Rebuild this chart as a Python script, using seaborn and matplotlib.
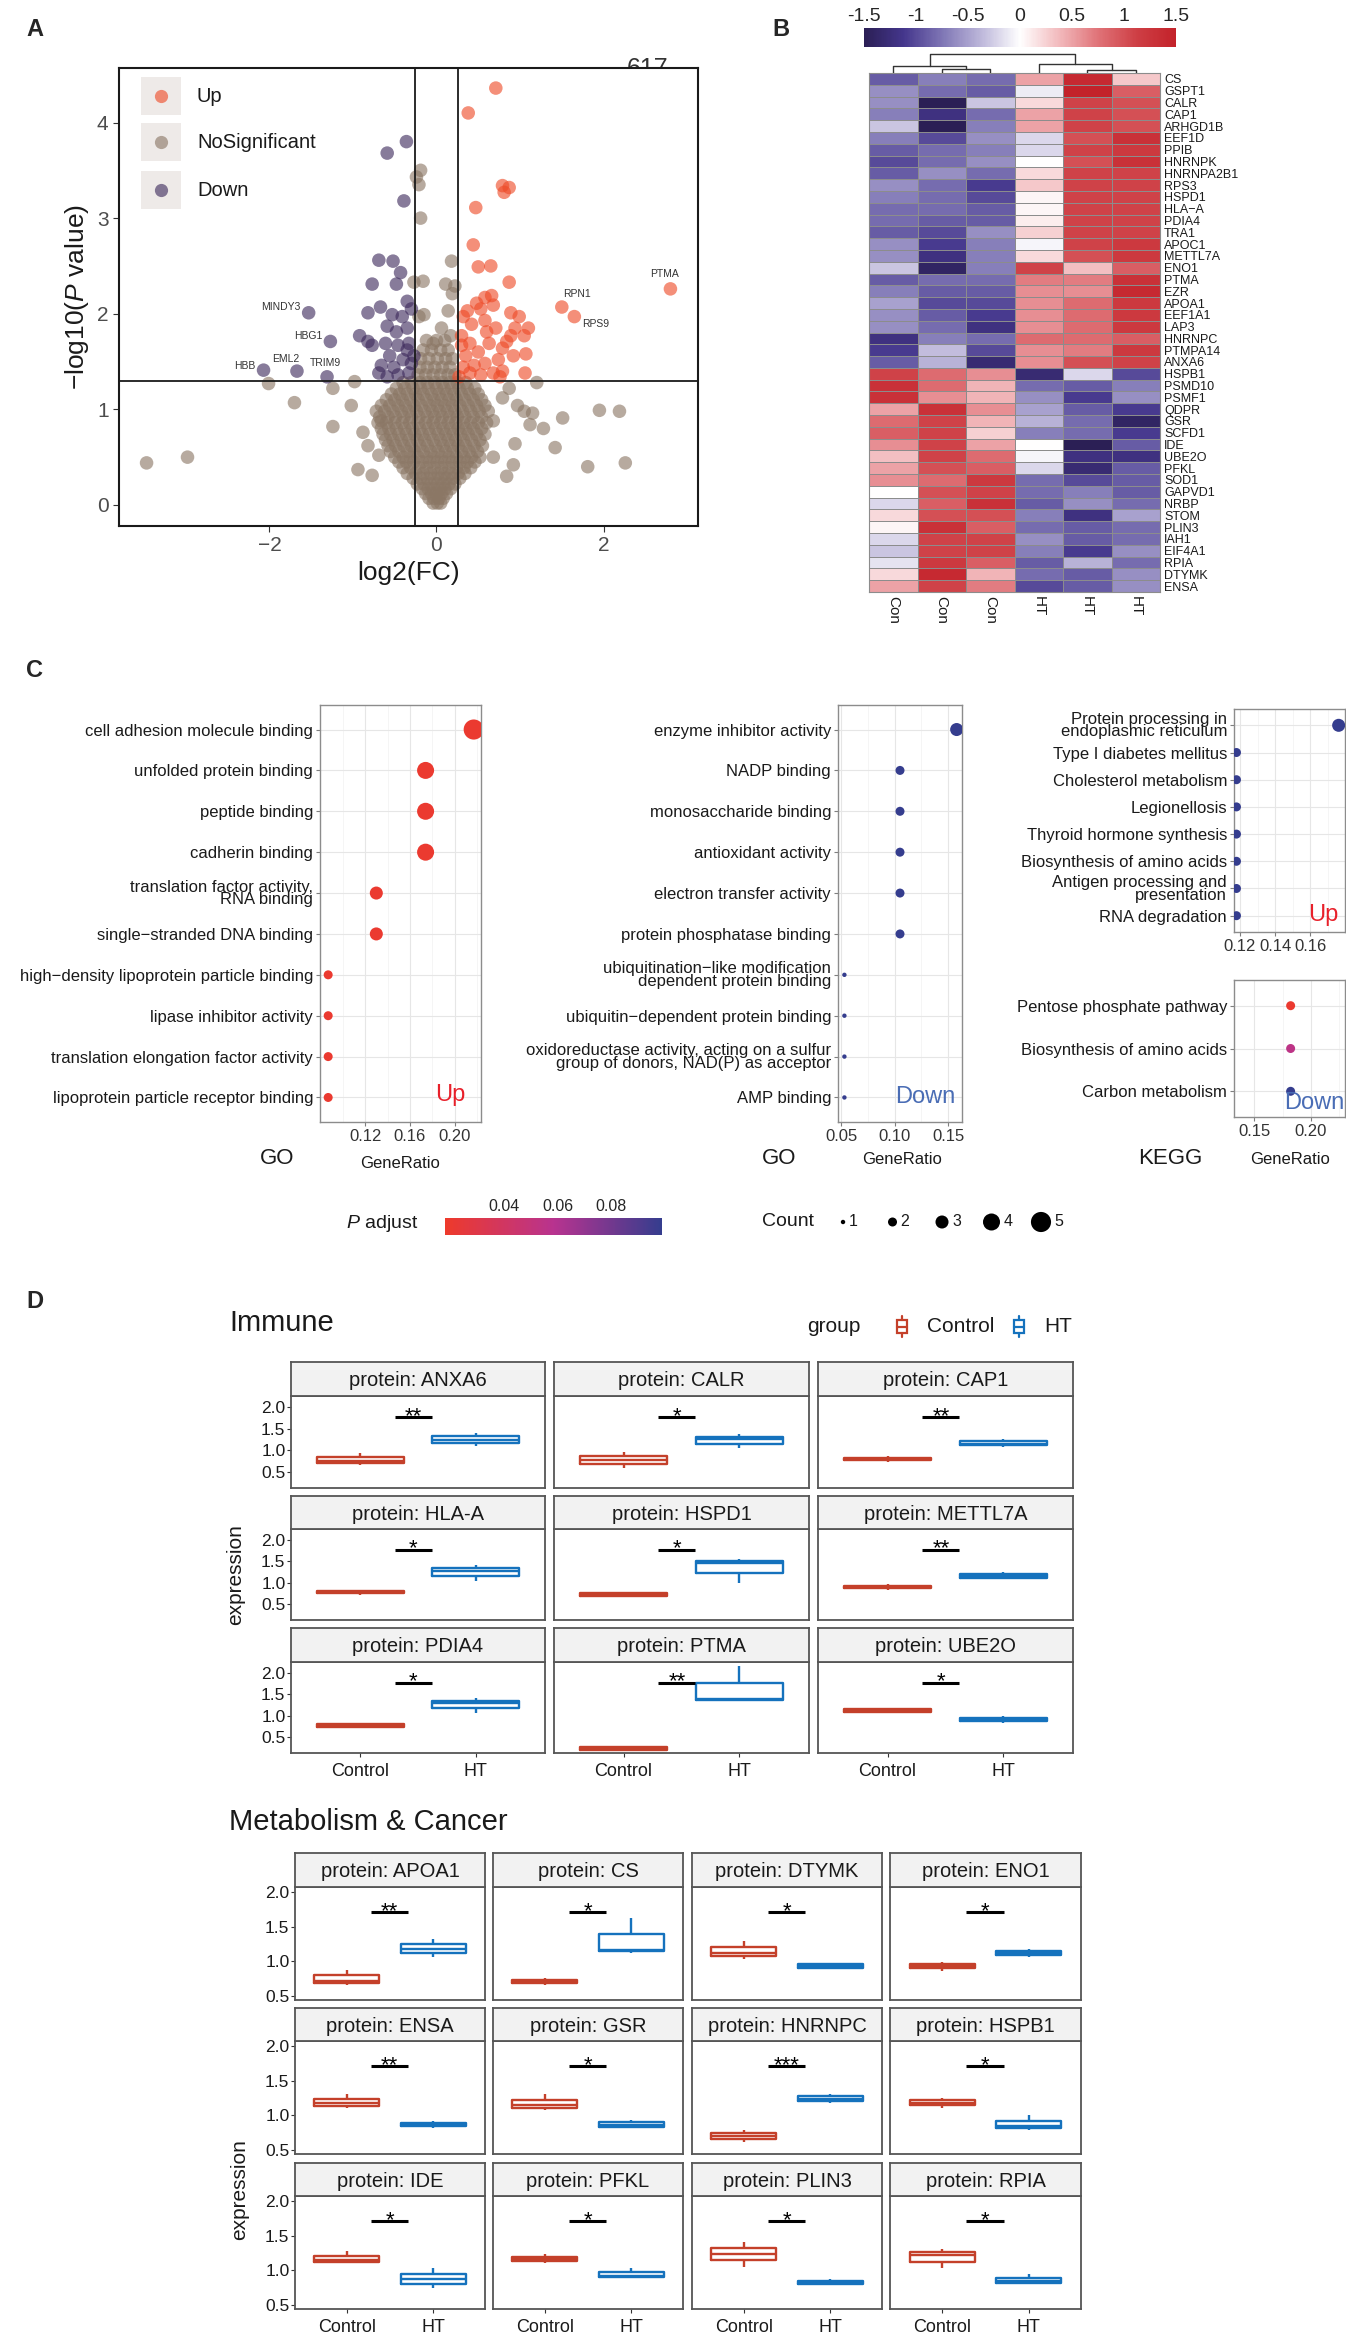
import numpy as np
import pandas as pd
import matplotlib
matplotlib.use("Agg")
import matplotlib.pyplot as plt
import seaborn as sns
from matplotlib.colors import LinearSegmentedColormap, Normalize
from matplotlib.cm import ScalarMappable
from matplotlib.patches import Rectangle
from matplotlib.ticker import MultipleLocator

sns.set_style("white")
plt.rcParams["font.family"] = ["Liberation Sans", "DejaVu Sans"]
plt.rcParams["mathtext.fontset"] = "custom"
plt.rcParams["mathtext.rm"] = "Liberation Sans"
plt.rcParams["mathtext.it"] = "Liberation Sans:italic"

# ---------------- A: volcano data ----------------
up_x = [0.71, 0.38, 0.79, 0.87, 0.81, 0.47, 0.44, 0.50, 0.65, 0.87, 1.50, 1.65, 2.80,
        0.37, 0.48, 0.58, 0.66, 0.53, 0.68, 0.32, 0.42, 0.58, 0.71, 0.89, 0.99, 1.10, 0.89, 1.05,
        0.30, 0.40, 0.50, 0.63, 0.79, 0.35, 0.45, 0.58, 0.74, 0.92, 1.07, 0.32, 0.40, 0.53, 0.68,
        0.79, 1.06, 0.30, 0.94, 0.84, 0.60, 0.27, 0.76]
up_y = [4.36, 4.10, 3.34, 3.32, 3.27, 3.11, 2.72, 2.49, 2.50, 2.33, 2.07, 1.97, 2.26,
        2.03, 2.11, 2.17, 2.19, 2.05, 2.09, 1.97, 1.89, 1.93, 1.85, 2.01, 1.97, 1.85, 1.77, 1.77,
        1.77, 1.69, 1.60, 1.69, 1.64, 1.56, 1.46, 1.48, 1.52, 1.56, 1.58, 1.44, 1.38, 1.36, 1.38,
        1.40, 1.38, 1.67, 1.85, 1.71, 1.81, 1.34, 1.34]
down_x = [-0.36, -0.59, -0.39, -0.69, -0.52, -0.43, -0.77, -0.48, -1.53, -1.27, -2.07, -1.67, -1.31,
          -0.35, -0.30, -0.82, -0.67, -0.53, -0.41, -0.59, -0.48, -0.35, -0.92, -0.82, -0.77, -0.61,
          -0.46, -0.33, -0.56, -0.40, -0.30, -0.66, -0.51, -0.69, -0.59, -0.46, -0.33, -0.27, -0.35]
down_y = [3.80, 3.68, 3.18, 2.56, 2.55, 2.43, 2.31, 2.31, 2.01, 1.71, 1.41, 1.40, 1.34,
          2.13, 2.05, 2.01, 2.07, 1.99, 1.97, 1.87, 1.81, 1.85, 1.77, 1.71, 1.67, 1.69,
          1.67, 1.69, 1.56, 1.52, 1.48, 1.46, 1.44, 1.38, 1.34, 1.36, 1.38, 1.56, 1.62]
ns_x = [-3.47, -2.98, -2.01, -1.70, -1.24, -1.24, -0.98, -0.94, -0.77, -1.02, -0.88, -0.82, -0.69, -0.66,
        0.18, -0.24, -0.19, -0.21, -0.19, -0.27, -0.16, 0.11, 0.22, 0.19, 0.14, -0.15, -0.21, 0.06, 0.17, -0.04,
        1.20, 0.97, 1.05, 1.15, 1.51, 1.95, 2.19, 1.42, 1.81, 2.26, 1.28, 1.12, 0.94, 0.84, 0.92, 0.68, 0.79, 0.87, 0.68]
ns_y = [0.44, 0.50, 1.27, 1.07, 1.22, 0.82, 1.29, 0.37, 0.31, 1.04, 0.76, 0.62, 0.52, 0.88,
        2.55, 3.43, 3.50, 3.35, 3.00, 2.33, 2.34, 2.31, 2.29, 2.21, 2.03, 1.99, 1.97, 1.85, 1.77, 1.69,
        1.28, 1.04, 0.98, 0.96, 0.91, 0.99, 0.98, 0.60, 0.40, 0.44, 0.80, 0.84, 0.64, 0.30, 0.42, 0.50, 1.12, 1.22, 0.88]
# dense centre of the cloud, row by row (y, x values)
ns_rows = [
    (0.02, [-0.04, 0.01, 0.05]),
    (0.07, [-0.09, -0.03, 0.03, 0.08]),
    (0.12, [-0.13, -0.06, 0.0, 0.06, 0.12]),
    (0.17, [-0.17, -0.1, -0.03, 0.04, 0.1, 0.17]),
    (0.22, [-0.23, -0.15, -0.07, 0.01, 0.08, 0.15, 0.22]),
    (0.28, [-0.28, -0.19, -0.11, -0.03, 0.05, 0.12, 0.2, 0.28]),
    (0.33, [-0.35, -0.25, -0.16, -0.07, 0.02, 0.1, 0.18, 0.26, 0.34]),
    (0.39, [-0.4, -0.31, -0.21, -0.12, -0.03, 0.06, 0.15, 0.24, 0.33, 0.41]),
    (0.45, [-0.45, -0.36, -0.27, -0.17, -0.08, 0.01, 0.1, 0.19, 0.28, 0.37, 0.46]),
    (0.50, [-0.5, -0.4, -0.31, -0.22, -0.12, -0.03, 0.06, 0.15, 0.24, 0.33, 0.42, 0.52]),
    (0.56, [-0.55, -0.45, -0.35, -0.26, -0.16, -0.07, 0.02, 0.11, 0.2, 0.3, 0.39, 0.49]),
    (0.62, [-0.58, -0.49, -0.39, -0.3, -0.2, -0.11, -0.01, 0.08, 0.17, 0.26, 0.35, 0.45, 0.55]),
    (0.68, [-0.61, -0.52, -0.42, -0.33, -0.23, -0.14, -0.04, 0.05, 0.14, 0.23, 0.32, 0.42, 0.52]),
    (0.74, [-0.64, -0.55, -0.45, -0.36, -0.26, -0.17, -0.08, 0.02, 0.11, 0.2, 0.29, 0.38, 0.48, 0.58]),
    (0.80, [-0.66, -0.57, -0.48, -0.38, -0.29, -0.2, -0.1, -0.01, 0.08, 0.17, 0.26, 0.35, 0.44, 0.54]),
    (0.86, [-0.7, -0.6, -0.5, -0.41, -0.32, -0.22, -0.13, -0.04, 0.05, 0.14, 0.23, 0.32, 0.41, 0.5, 0.6]),
    (0.92, [-0.68, -0.58, -0.49, -0.39, -0.3, -0.21, -0.11, -0.02, 0.07, 0.16, 0.25, 0.34, 0.44, 0.54]),
    (0.98, [-0.72, -0.62, -0.52, -0.42, -0.33, -0.24, -0.14, -0.05, 0.04, 0.13, 0.22, 0.31, 0.41, 0.51, 0.62]),
    (1.04, [-0.66, -0.56, -0.46, -0.37, -0.27, -0.18, -0.08, 0.01, 0.1, 0.19, 0.28, 0.38, 0.48, 0.58]),
    (1.10, [-0.6, -0.5, -0.41, -0.31, -0.22, -0.12, -0.03, 0.06, 0.15, 0.24, 0.34, 0.44, 0.54]),
    (1.16, [-0.54, -0.44, -0.35, -0.25, -0.16, -0.06, 0.03, 0.12, 0.21, 0.3, 0.4, 0.5]),
    (1.22, [-0.48, -0.38, -0.28, -0.19, -0.1, 0.0, 0.09, 0.18, 0.27, 0.37, 0.46]),
    (1.28, [-0.4, -0.3, -0.2, -0.11, -0.02, 0.07, 0.16, 0.25, 0.35]),
    (1.36, [-0.22, -0.13, -0.04, 0.05, 0.14, 0.22]),
    (1.44, [-0.2, -0.11, -0.02, 0.07, 0.16]),
    (1.53, [-0.19, -0.09, 0.01, 0.11, 0.19]),
    (1.62, [-0.16, -0.06, 0.05, 0.14]),
    (1.72, [-0.12, 0.0, 0.1]),
]
vol_labels = ["MINDY3", "HBG1", "EML2", "HBB", "TRIM9", "RPN1", "RPS9", "PTMA"]
vol_label_x = [-1.63, -1.53, -1.81, -2.30, -1.33, 1.68, 1.91, 2.73]
vol_label_y = [2.07, 1.77, 1.53, 1.45, 1.48, 2.21, 1.89, 2.42]

# ---------------- B: heatmap data ----------------
hm_samples = ["Con", "Con", "Con", "HT", "HT", "HT"]
hm_genes = ["CS", "GSPT1", "CALR", "CAP1", "ARHGD1B", "EEF1D", "PPIB", "HNRNPK", "HNRNPA2B1", "RPS3",
            "HSPD1", "HLA\u2212A", "PDIA4", "TRA1", "APOC1", "METTL7A", "ENO1", "PTMA", "EZR", "APOA1",
            "EEF1A1", "LAP3", "HNRNPC", "PTMPA14", "ANXA6", "HSPB1", "PSMD10", "PSMF1", "QDPR", "GSR",
            "SCFD1", "IDE", "UBE2O", "PFKL", "SOD1", "GAPVD1", "NRBP", "STOM", "PLIN3", "IAH1",
            "EIF4A1", "RPIA", "DTYMK", "ENSA"]
hm_values = [
    [-0.9, -0.7, -0.8, 0.5, 1.4, 0.3],
    [-0.6, -0.8, -0.9, -0.1, 1.5, 0.9],
    [-0.6, -1.5, -0.3, 0.2, 1.1, 1.0],
    [-0.7, -1.2, -0.8, 0.5, 1.1, 1.0],
    [-0.3, -1.5, -0.7, 0.5, 1.1, 1.0],
    [-0.7, -1.0, -0.6, -0.2, 1.0, 1.3],
    [-0.9, -0.8, -0.7, -0.2, 1.1, 1.2],
    [-1.0, -0.8, -0.6, 0.0, 1.0, 1.3],
    [-0.9, -0.6, -0.8, 0.2, 1.1, 1.1],
    [-0.6, -0.8, -1.1, 0.3, 1.1, 1.1],
    [-0.7, -0.8, -1.0, 0.05, 1.1, 1.1],
    [-0.8, -0.8, -0.9, 0.05, 1.1, 1.1],
    [-0.8, -0.9, -0.9, 0.1, 1.1, 1.1],
    [-0.9, -1.0, -0.6, 0.25, 1.1, 1.1],
    [-0.6, -1.1, -0.7, -0.05, 1.1, 1.2],
    [-0.6, -1.2, -0.7, 0.2, 1.0, 1.2],
    [-0.3, -1.4, -0.7, 1.1, 0.35, 0.9],
    [-0.9, -0.8, -0.8, 0.7, 0.7, 1.3],
    [-0.7, -0.9, -0.9, 0.6, 0.6, 1.4],
    [-0.5, -1.0, -1.0, 0.6, 0.8, 1.2],
    [-0.6, -0.9, -1.1, 0.6, 0.8, 1.2],
    [-0.6, -0.8, -1.2, 0.6, 0.8, 1.2],
    [-1.2, -0.7, -0.8, 0.8, 0.8, 0.9],
    [-1.1, -0.35, -1.0, 0.6, 0.7, 1.2],
    [-0.9, -0.4, -1.3, 0.6, 1.0, 1.1],
    [1.1, 0.8, 0.6, -1.3, -0.2, -1.0],
    [1.3, 0.8, 0.4, -0.8, -0.9, -0.7],
    [1.3, 0.6, 0.4, -0.6, -1.1, -0.6],
    [0.5, 1.3, 0.6, -0.5, -0.9, -1.1],
    [0.8, 1.1, 0.4, -0.4, -0.8, -1.4],
    [0.9, 1.1, 0.25, -0.7, -0.8, -1.1],
    [0.6, 1.1, 0.5, 0.0, -1.5, -0.9],
    [0.35, 1.1, 0.8, -0.05, -1.2, -1.2],
    [0.5, 1.0, 0.9, -0.2, -1.3, -0.9],
    [0.6, 0.8, 1.2, -0.8, -1.0, -0.9],
    [0.0, 1.0, 1.1, -0.8, -0.7, -0.9],
    [-0.2, 0.9, 1.3, -0.9, -0.6, -0.8],
    [0.2, 1.0, 1.0, -0.7, -1.2, -0.5],
    [0.05, 1.3, 0.9, -0.8, -0.9, -0.8],
    [-0.2, 1.1, 1.1, -0.6, -0.9, -0.8],
    [-0.3, 1.1, 1.1, -0.7, -1.1, -0.6],
    [-0.15, 1.2, 0.9, -0.9, -0.4, -0.8],
    [0.2, 1.4, 0.4, -0.8, -0.9, -0.6],
    [0.5, 1.1, 0.7, -1.0, -0.9, -0.6],
]
# column dendrogram (scipy style coordinates, heights relative)
dend_icoord = [[1.5, 1.5, 2.5, 2.5], [0.5, 0.5, 2.0, 2.0], [4.5, 4.5, 5.5, 5.5],
               [3.5, 3.5, 5.0, 5.0], [1.25, 1.25, 4.25, 4.25]]
dend_dcoord = [[0, 0.22, 0.22, 0], [0, 0.36, 0.36, 0.22], [0, 0.15, 0.15, 0],
               [0, 0.46, 0.46, 0.15], [0.36, 1.0, 1.0, 0.46]]

# ---------------- C: enrichment data ----------------
go_up_terms = ["cell adhesion molecule binding", "unfolded protein binding", "peptide binding",
               "cadherin binding", "translation factor activity,\nRNA binding", "single\u2212stranded DNA binding",
               "high\u2212density lipoprotein particle binding", "lipase inhibitor activity",
               "translation elongation factor activity", "lipoprotein particle receptor binding"]
go_up_count = [5, 4, 4, 4, 3, 3, 2, 2, 2, 2]
go_up_ratio = [0.217, 0.174, 0.174, 0.174, 0.130, 0.130, 0.087, 0.087, 0.087, 0.087]
go_up_padj = [0.02, 0.02, 0.02, 0.02, 0.02, 0.02, 0.02, 0.02, 0.02, 0.02]

go_down_terms = ["enzyme inhibitor activity", "NADP binding", "monosaccharide binding", "antioxidant activity",
                 "electron transfer activity", "protein phosphatase binding",
                 "ubiquitination\u2212like modification\ndependent protein binding",
                 "ubiquitin\u2212dependent protein binding",
                 "oxidoreductase activity, acting on a sulfur\ngroup of donors, NAD(P) as acceptor", "AMP binding"]
go_down_count = [3, 2, 2, 2, 2, 2, 1, 1, 1, 1]
go_down_ratio = [0.158, 0.105, 0.105, 0.105, 0.105, 0.105, 0.053, 0.053, 0.053, 0.053]
go_down_padj = [0.099] * 10

kegg_up_terms = ["Protein processing in\nendoplasmic reticulum", "Type I diabetes mellitus", "Cholesterol metabolism",
                 "Legionellosis", "Thyroid hormone synthesis", "Biosynthesis of amino acids",
                 "Antigen processing and\npresentation", "RNA degradation"]
kegg_up_count = [3, 2, 2, 2, 2, 2, 2, 2]
kegg_up_ratio = [0.176, 0.118, 0.118, 0.118, 0.118, 0.118, 0.118, 0.118]
kegg_up_padj = [0.099] * 8

kegg_down_terms = ["Pentose phosphate pathway", "Biosynthesis of amino acids", "Carbon metabolism"]
kegg_down_count = [2, 2, 2]
kegg_down_ratio = [0.182, 0.182, 0.182]
kegg_down_padj = [0.02, 0.055, 0.099]

# ---------------- D: boxplot data (3 samples per group) ----------------
immune_proteins = ["ANXA6", "CALR", "CAP1", "HLA-A", "HSPD1", "METTL7A", "PDIA4", "PTMA", "UBE2O"]
immune_ctrl = [[0.66, 0.76, 0.94], [0.60, 0.78, 0.95], [0.74, 0.79, 0.86],
               [0.72, 0.78, 0.84], [0.66, 0.72, 0.78], [0.84, 0.90, 0.96],
               [0.72, 0.77, 0.84], [0.18, 0.24, 0.30], [1.06, 1.12, 1.18]]
immune_ht = [[1.10, 1.24, 1.40], [1.05, 1.25, 1.38], [1.08, 1.15, 1.26],
             [1.05, 1.28, 1.40], [1.00, 1.45, 1.55], [1.08, 1.15, 1.24],
             [1.06, 1.30, 1.40], [1.35, 1.38, 2.15], [0.83, 0.90, 0.99]]
immune_sig = ["**", "*", "**", "*", "*", "**", "*", "**", "*"]

metab_proteins = ["APOA1", "CS", "DTYMK", "ENO1", "ENSA", "GSR", "HNRNPC", "HSPB1", "IDE", "PFKL", "PLIN3", "RPIA"]
metab_ctrl = [[0.66, 0.72, 0.87], [0.66, 0.71, 0.76], [1.03, 1.12, 1.29], [0.86, 0.93, 0.99],
              [1.10, 1.17, 1.30], [1.07, 1.14, 1.30], [0.62, 0.70, 0.79], [1.11, 1.18, 1.25],
              [1.10, 1.14, 1.28], [1.10, 1.16, 1.23], [1.05, 1.24, 1.40], [1.03, 1.22, 1.30]]
metab_ht = [[1.06, 1.18, 1.32], [1.12, 1.16, 1.63], [0.88, 0.93, 0.98], [1.06, 1.12, 1.18],
            [0.82, 0.86, 0.91], [0.81, 0.86, 0.93], [1.18, 1.24, 1.30], [0.78, 0.84, 1.00],
            [0.74, 0.87, 1.03], [0.89, 0.92, 1.03], [0.78, 0.82, 0.87], [0.80, 0.84, 0.94]]
metab_sig = ["**", "*", "*", "*", "**", "*", "***", "*", "*", "*", "*", "*"]

# ---------------- figure ----------------
W, H = 1346, 2336
fig = plt.figure(figsize=(W / 100, H / 100), dpi=100)


def px(x0, y0, x1, y1):
    return [x0 / W, 1 - y1 / H, (x1 - x0) / W, (y1 - y0) / H]


def ftext(x, y, s, **kw):
    return fig.text(x / W, 1 - y / H, s, **kw)


for lab, x, y in [("A", 26, 30), ("B", 772, 30), ("C", 26, 670), ("D", 26, 1302)]:
    ftext(x, y, lab, fontsize=17, fontweight="bold", ha="left", va="center")

# ---- A ----
vol_pal = {"NoSignificant": "#8B7765", "Down": "#3D2A5C", "Up": "#EE4A27"}
grey_x = ns_x + [x for y, xs in ns_rows for x in xs]
grey_y = ns_y + [y for y, xs in ns_rows for x in xs]
vol = pd.DataFrame({
    "log2FC": grey_x + down_x + up_x,
    "logp": grey_y + down_y + up_y,
    "change": ["NoSignificant"] * len(grey_x) + ["Down"] * len(down_x) + ["Up"] * len(up_x),
})
ftext(648, 76, "617", fontsize=18, color="#333333", ha="center", va="baseline", zorder=-1)
axa = fig.add_axes(px(119, 68, 698, 526))
sns.scatterplot(data=vol, x="log2FC", y="logp", hue="change", palette=vol_pal, s=95, alpha=0.62,
                edgecolor="none", legend=False, ax=axa)
axa.axvline(-0.26, color="#1A1A1A", lw=1.3)
axa.axvline(0.26, color="#1A1A1A", lw=1.3)
axa.axhline(1.30, color="#1A1A1A", lw=1.3)
for t, x, y in zip(vol_labels, vol_label_x, vol_label_y):
    axa.text(x, y, t, fontsize=7.5, color="#333333", ha="right" if t == "MINDY3" else "center", va="center")
axa.set_xlim(-3.8, 3.13)
axa.set_ylim(-0.22, 4.57)
axa.set_xticks([-2, 0, 2])
axa.set_yticks([0, 1, 2, 3, 4])
axa.set_xticklabels(["\u22122", "0", "2"])
axa.tick_params(labelsize=15, labelcolor="#4D4D4D", length=4, color="#333333", bottom=True, left=True)
axa.set_xlabel("log2(FC)", fontsize=19, color="#1A1A1A")
axa.set_ylabel(r"$-$log10($\it{P}$ value)", fontsize=19, color="#1A1A1A")
for s in axa.spines.values():
    s.set_color("#1A1A1A")
    s.set_linewidth(1.5)
# legend keys
for (lab, col), ky in zip([("Up", "#EE4A27"), ("NoSignificant", "#8B7765"), ("Down", "#3D2A5C")], [96, 142, 190]):
    fig.add_artist(Rectangle(((141) / W, 1 - (ky + 19) / H), 40 / W, 38 / H, transform=fig.transFigure,
                             facecolor="#EEEAE8", edgecolor="none", zorder=3))
    fig.add_artist(plt.Line2D([161 / W], [1 - ky / H], marker="o", markersize=9.5, color=col, alpha=0.62,
                              markeredgewidth=0, transform=fig.transFigure, zorder=4))
    ftext(197, ky, lab, fontsize=14.5, color="#1A1A1A", ha="left", va="center", zorder=4)

# ---- B ----
hm_cmap = LinearSegmentedColormap.from_list("hm", ["#2B1F55", "#44368C", "#7F76B5", "#BDB7DA", "#FFFFFF",
                                                    "#F2BABD", "#E07378", "#CE3F45", "#C3222A"])
hm = pd.DataFrame(hm_values, index=hm_genes)
axh = fig.add_axes(px(869, 73, 1160, 592))
axcb = fig.add_axes(px(864, 28, 1176, 47))
sns.heatmap(hm, ax=axh, cmap=hm_cmap, vmin=-1.5, vmax=1.5, linewidths=0.6, linecolor="#8C8C8C",
            xticklabels=hm_samples, yticklabels=hm_genes, cbar_ax=axcb,
            cbar_kws={"orientation": "horizontal", "ticks": [-1.5, -1, -0.5, 0, 0.5, 1, 1.5]})
axh.yaxis.tick_right()
axh.set_yticklabels(hm_genes, rotation=0, fontsize=9, color="#1A1A1A")
axh.set_xticklabels(hm_samples, rotation=270, fontsize=11, color="#1A1A1A")
axh.tick_params(length=0, pad=3)
for s in axh.spines.values():
    s.set_visible(True)
    s.set_color("#8C8C8C")
    s.set_linewidth(0.8)
axcb.xaxis.set_ticks_position("top")
axcb.set_xticklabels(["-1.5", "-1", "-0.5", "0", "0.5", "1", "1.5"])
axcb.tick_params(length=0, labelsize=14, pad=2)
for s in axcb.spines.values():
    s.set_visible(False)
hm_cbar = axh.collections[0].colorbar
if hm_cbar is not None:
    hm_cbar.outline.set_visible(False)
axd = fig.add_axes(px(869, 53, 1160, 73))
for xs, ys in zip(dend_icoord, dend_dcoord):
    axd.plot(xs, ys, color="#333333", lw=1.0)
axd.set_xlim(0, 6)
axd.set_ylim(0, 1.03)
axd.axis("off")

# ---- C ----
padj_cmap = LinearSegmentedColormap.from_list("padj", ["#EE3A2B", "#B8338F", "#353D8E"])
padj_norm = (0.018, 0.099)
size_map = {1: 10, 2: 42, 3: 88, 4: 150, 5: 210}


def dotplot(box, terms, counts, ratios, padj, xlim, xmajor, tag, tag_color, tag_xy):
    ax = fig.add_axes(px(*box))
    n = len(terms)
    df = pd.DataFrame({"pos": list(range(n)), "count": counts, "ratio": ratios, "padj": padj})
    sns.scatterplot(data=df, x="ratio", y="pos", hue="padj", palette=padj_cmap, hue_norm=padj_norm,
                    size="count", sizes=size_map, edgecolor="none", legend=False, ax=ax, zorder=3)
    ax.set_yticks(range(n))
    ax.set_yticklabels(terms, fontsize=12, color="#1A1A1A", linespacing=0.8)
    ax.set_ylim(n - 1 + 0.6, -0.6)
    ax.set_xlim(*xlim)
    ax.xaxis.set_major_locator(MultipleLocator(xmajor))
    ax.xaxis.set_minor_locator(MultipleLocator(xmajor / 2))
    ax.xaxis.set_major_formatter(plt.FormatStrFormatter("%.2f"))
    ax.grid(True, which="major", color="#E6E6E6", lw=0.8)
    ax.grid(True, which="minor", axis="x", color="#F2F2F2", lw=0.5)
    ax.set_axisbelow(True)
    ax.tick_params(axis="both", which="major", length=3, color="#7F7F7F", labelsize=12,
                   bottom=True, left=True, pad=2)
    ax.tick_params(axis="x", labelcolor="#333333")
    ax.tick_params(which="minor", length=0)
    ax.set_xlabel("")
    ax.set_ylabel("")
    for s in ax.spines.values():
        s.set_color("#8C8C8C")
        s.set_linewidth(1.0)
    ax.text(tag_xy[0], tag_xy[1], tag, transform=ax.transAxes, color=tag_color, fontsize=17,
            ha="center", va="center")
    return ax


ax1 = dotplot((320, 705, 481, 1122), go_up_terms, go_up_count, go_up_ratio, go_up_padj,
              (0.0797, 0.2235), 0.04, "Up", "#E8202A", (0.81, 0.065))
ax1.set_xticks([0.12, 0.16, 0.20])
ax2 = dotplot((838, 705, 962, 1122), go_down_terms, go_down_count, go_down_ratio, go_down_padj,
              (0.047, 0.163), 0.05, "Down", "#4A6DB5", (0.70, 0.06))
ax3 = dotplot((1234, 709, 1345, 932), kegg_up_terms, kegg_up_count, kegg_up_ratio, kegg_up_padj,
              (0.1166, 0.1796), 0.02, "Up", "#E8202A", (0.80, 0.075))
ax4 = dotplot((1234, 980, 1345, 1117), kegg_down_terms, kegg_down_count, kegg_down_ratio, kegg_down_padj,
              (0.132, 0.230), 0.05, "Down", "#4A6DB5", (0.72, 0.10))
for (x, y), s, fs in [((277, 1158), "GO", 16), ((400, 1163), "GeneRatio", 12), ((779, 1158), "GO", 16),
                      ((902, 1160), "GeneRatio", 12), ((1170, 1158), "KEGG", 16), ((1290, 1160), "GeneRatio", 12)]:
    ftext(x, y, s, fontsize=fs, ha="center", va="center", color="#1A1A1A")

ftext(346, 1224, r"$\it{P}$ adjust", fontsize=14, ha="left", va="center", color="#1A1A1A")
axpc = fig.add_axes(px(445, 1218, 662, 1235))
cb = fig.colorbar(ScalarMappable(norm=Normalize(*padj_norm), cmap=padj_cmap), cax=axpc, orientation="horizontal",
                  ticks=[0.04, 0.06, 0.08])
cb.outline.set_visible(False)
axpc.xaxis.set_ticks_position("top")
axpc.set_xticklabels(["0.04", "0.06", "0.08"])
axpc.tick_params(labelsize=11.5, length=4, direction="in", color="white", pad=3)

ftext(762, 1222, "Count", fontsize=14, ha="left", va="center", color="#1A1A1A")
legend_counts = [1, 2, 3, 4, 5]
axcl = fig.add_axes(px(830, 1206, 1070, 1238))
sns.scatterplot(x=legend_counts, y=[0] * 5, size=legend_counts, sizes=size_map, color="black",
                edgecolor="none", legend=False, ax=axcl)
for c in legend_counts:
    axcl.annotate(str(c), (c, 0), xytext=(np.sqrt(size_map[c]) / 2 + 2.5, 0), textcoords="offset points",
                  fontsize=11.5, va="center", ha="left", color="#1A1A1A")
axcl.set_xlim(0.737, 5.586)
axcl.set_ylim(-1, 1)
axcl.axis("off")

# ---- D ----
grp_pal = {"Control": "#C4402A", "HT": "#1572BD"}


def box_panel(col, row, protein, ctrl, ht, sig, ylim, bar_x, bar_y, show_y, show_x):
    x0, x1 = col
    st, pt, pb = row
    ax = fig.add_axes(px(x0, pt, x1, pb))
    df = pd.DataFrame({"group": ["Control"] * len(ctrl) + ["HT"] * len(ht), "expression": ctrl + ht})
    sns.boxplot(data=df, x="group", y="expression", hue="group", palette=grp_pal, fill=False, width=0.75,
                linewidth=1.7, whis=10, legend=False, ax=ax, capprops={"linewidth": 0})
    ax.set_xlim(-0.6, 1.6)
    ax.set_ylim(*ylim)
    ax.set_yticks([0.5, 1.0, 1.5, 2.0])
    ax.set_xlabel("")
    ax.set_ylabel("")
    ax.plot(bar_x, [bar_y, bar_y], color="black", lw=2.2, solid_capstyle="butt")
    ax.annotate(sig, (np.mean(bar_x), bar_y), xytext=(0, -3.5), textcoords="offset points",
                ha="center", va="baseline", fontsize=16, color="black")
    ax.tick_params(axis="y", left=show_y, labelleft=show_y, length=3, color="#333333", labelsize=12.5,
                   labelcolor="#1A1A1A", pad=1)
    ax.tick_params(axis="x", bottom=show_x, labelbottom=show_x, length=3, color="#333333", labelsize=13,
                   labelcolor="#1A1A1A", pad=4)
    for s in ax.spines.values():
        s.set_color("#555555")
        s.set_linewidth(1.3)
    sa = fig.add_axes(px(x0, st, x1, pt))
    sa.set_facecolor("#F2F2F2")
    sa.set_xticks([])
    sa.set_yticks([])
    for s in sa.spines.values():
        s.set_color("#555555")
        s.set_linewidth(1.3)
    sa.text(0.5, 0.45, "protein: " + protein, transform=sa.transAxes, ha="center", va="center",
            fontsize=14.5, color="#1A1A1A")


imm_cols = [(291, 545), (554, 809), (818, 1073)]
imm_rows = [(1362, 1396, 1488), (1496, 1529, 1620), (1628, 1662, 1753)]
for i, p in enumerate(immune_proteins):
    r, c = divmod(i, 3)
    box_panel(imm_cols[c], imm_rows[r], p, immune_ctrl[i], immune_ht[i], immune_sig[i],
              (0.13, 2.25), [0.30, 0.62], 1.77, c == 0, r == 2)

met_cols = [(295, 485), (493, 683), (692, 882), (890, 1081)]
met_rows = [(1853, 1887, 2000), (2008, 2041, 2154), (2163, 2196, 2309)]
for i, p in enumerate(metab_proteins):
    r, c = divmod(i, 4)
    box_panel(met_cols[c], met_rows[r], p, metab_ctrl[i], metab_ht[i], metab_sig[i],
              (0.44, 2.07), [0.28, 0.71], 1.71, c == 0, r == 2)

ftext(229, 1323, "Immune", fontsize=21, ha="left", va="center", color="#1A1A1A")
ftext(229, 1822, "Metabolism & Cancer", fontsize=21, ha="left", va="center", color="#1A1A1A")
ftext(236, 1575, "expression", fontsize=15, rotation=90, ha="center", va="center", color="#1A1A1A")
ftext(240, 2190, "expression", fontsize=15, rotation=90, ha="center", va="center", color="#1A1A1A")

# group legend
ftext(807, 1327, "group", fontsize=15, ha="left", va="center", color="#1A1A1A")
for (lab, col), kx, tx in [(("Control", grp_pal["Control"]), 902, 927), (("HT", grp_pal["HT"]), 1019, 1044)]:
    fig.add_artist(Rectangle(((kx - 5) / W, 1 - (1333) / H), 10 / W, 13 / H, transform=fig.transFigure,
                             facecolor="white", edgecolor=col, lw=1.6))
    fig.add_artist(plt.Line2D([(kx - 5) / W, (kx + 5) / W], [1 - 1326.5 / H] * 2, color=col, lw=1.6,
                              transform=fig.transFigure))
    fig.add_artist(plt.Line2D([kx / W] * 2, [1 - 1316 / H, 1 - 1320 / H], color=col, lw=1.6,
                              transform=fig.transFigure))
    fig.add_artist(plt.Line2D([kx / W] * 2, [1 - 1333 / H, 1 - 1337 / H], color=col, lw=1.6,
                              transform=fig.transFigure))
    ftext(tx, 1327, lab, fontsize=15, ha="left", va="center", color="#1A1A1A")

fig.savefig("out.png", dpi=100, facecolor="white")
